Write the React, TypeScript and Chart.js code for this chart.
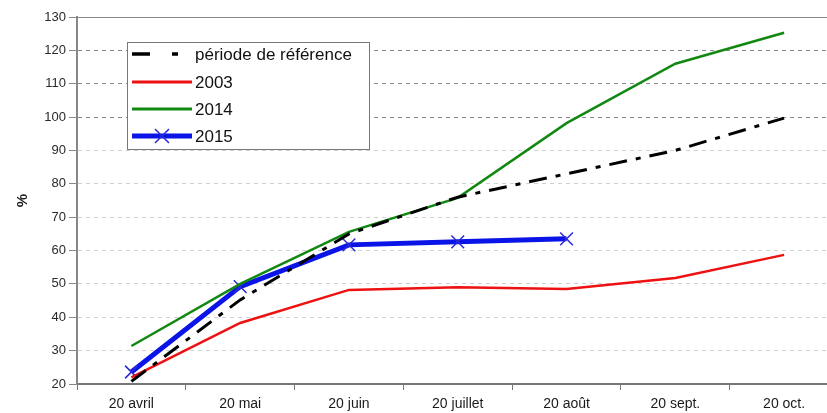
import React, { useEffect, useRef } from "react";
import { Chart, registerables } from "chart.js";

Chart.register(...registerables);

const categories = ["20 avril", "20 mai", "20 juin", "20 juillet", "20 août", "20 sept.", "20 oct."];
const reference = [20.8, 45.2, 65, 76, 83, 90, 99.7];
const y2003 = [22, 38.3, 48.2, 49, 48.5, 51.8, 58.7];
const y2014 = [31.4, 50, 65.6, 75.8, 98.2, 116, 125.3];
const y2015 = [23.6, 49.2, 61.7, 62.6, 63.5];
const legendLabels = ["période de référence", "2003", "2014", "2015"];
const yMin = 20;
const yMax = 130;
const yStep = 10;

const FONT = "'Liberation Sans', Arial, sans-serif";

const legendPlugin = {
  id: "customLegend",
  afterDraw(chart: any) {
    const ctx = chart.ctx;
    ctx.save();
    const bx = 127.5, by = 42.5, bw = 242, bh = 107;
    ctx.fillStyle = "#ffffff";
    ctx.fillRect(bx, by, bw, bh);
    ctx.strokeStyle = "#777777";
    ctx.lineWidth = 1;
    ctx.strokeRect(bx, by, bw, bh);
    const rows = [54, 82, 109, 136];
    const styles = [
      { color: "#000000", width: 3.5, dash: [18, 22, 6, 100] },
      { color: "#ee1111", width: 3, dash: [] },
      { color: "#118811", width: 3, dash: [] },
      { color: "#0a14e6", width: 5, dash: [] },
    ];
    rows.forEach((y, i) => {
      const s = styles[i];
      ctx.beginPath();
      ctx.setLineDash(s.dash);
      ctx.strokeStyle = s.color;
      ctx.lineWidth = s.width;
      ctx.moveTo(132, y);
      ctx.lineTo(192, y);
      ctx.stroke();
      ctx.setLineDash([]);
      if (i === 3) {
        ctx.strokeStyle = "#2a2ad8";
        ctx.lineWidth = 1.5;
        ctx.beginPath();
        ctx.moveTo(155, y - 7);
        ctx.lineTo(169, y + 7);
        ctx.moveTo(169, y - 7);
        ctx.lineTo(155, y + 7);
        ctx.stroke();
      }
      ctx.fillStyle = "#111111";
      ctx.font = "17px " + FONT;
      ctx.textBaseline = "middle";
      ctx.textAlign = "left";
      ctx.fillText(legendLabels[i], 195, y + 1);
    });
    ctx.restore();
  },
};

export default function App() {
  const ref = useRef<HTMLCanvasElement | null>(null);
  useEffect(() => {
    if (!ref.current) return;
    const chart = new Chart(ref.current, {
      type: "line",
      data: {
        labels: categories,
        datasets: [
          {
            label: legendLabels[0],
            data: reference,
            borderColor: "#000000",
            borderWidth: 3,
            borderDash: [18, 9, 5, 9],
            pointRadius: 0,
            tension: 0,
          },
          {
            label: legendLabels[1],
            data: y2003,
            borderColor: "#ee1111",
            borderWidth: 2.5,
            pointRadius: 0,
            tension: 0,
          },
          {
            label: legendLabels[2],
            data: y2014,
            borderColor: "#118811",
            borderWidth: 2.5,
            pointRadius: 0,
            tension: 0,
          },
          {
            label: legendLabels[3],
            data: y2015,
            borderColor: "#0a14e6",
            borderWidth: 5,
            pointStyle: "crossRot",
            pointRadius: 9,
            pointBorderColor: "#2a2ad8",
            pointBorderWidth: 1.5,
            pointBackgroundColor: "#2a2ad8",
            tension: 0,
          },
        ],
      },
      options: {
        animation: false,
        responsive: true,
        maintainAspectRatio: false,
        layout: { padding: { top: 17, right: 5, left: 0, bottom: 0 } },
        plugins: { legend: { display: false }, tooltip: { enabled: false } },
        scales: {
          x: {
            type: "category",
            offset: true,
            grid: {
              offset: true,
              drawOnChartArea: false,
              drawTicks: true,
              tickLength: 6,
              tickColor: "#777777",
            },
            border: { display: true, color: "#777777", width: 2 },
            ticks: {
              color: "#1a1a1a",
              font: { family: FONT, size: 14 },
              padding: 6,
              maxRotation: 0,
              autoSkip: false,
            },
            afterFit: (scale: any) => {
              scale.height = 29;
            },
          },
          y: {
            type: "linear",
            min: yMin,
            max: yMax,
            ticks: {
              stepSize: yStep,
              color: "#2a2a2a",
              font: { family: FONT, size: 13 },
              padding: 3,
            },
            grid: {
              color: (c: any) => {
                const v = c.tick ? c.tick.value : 0;
                if (v >= 130) return "#888888";
                if (v >= 100) return "#8a8a8a";
                return "#d0d0d0";
              },
              tickColor: "#888888",
              tickLength: 8,
              tickBorderDash: [],
            },
            border: {
              display: true,
              color: "#888888",
              width: 2,
              dash: (c: any) => {
                const v = c.tick ? c.tick.value : 0;
                return v >= 130 ? [] : [4, 4];
              },
            },
            title: {
              display: true,
              text: "%",
              color: "#222222",
              font: { family: FONT, size: 15, weight: "bold" },
              padding: { top: 14, bottom: 0 },
            },
            afterFit: (scale: any) => {
              scale.width = 77;
            },
          },
        },
      },
      plugins: [legendPlugin],
    });
    return () => chart.destroy();
  }, []);
  return (
    <div style={{ position: "fixed", left: 0, top: 0, width: 827, height: 413, overflow: "hidden", background: "#fff" }}>
      <div style={{ position: "absolute", left: 0, top: 0, width: 849, height: 413 }}>
        <canvas ref={ref} />
      </div>
    </div>
  );
}
